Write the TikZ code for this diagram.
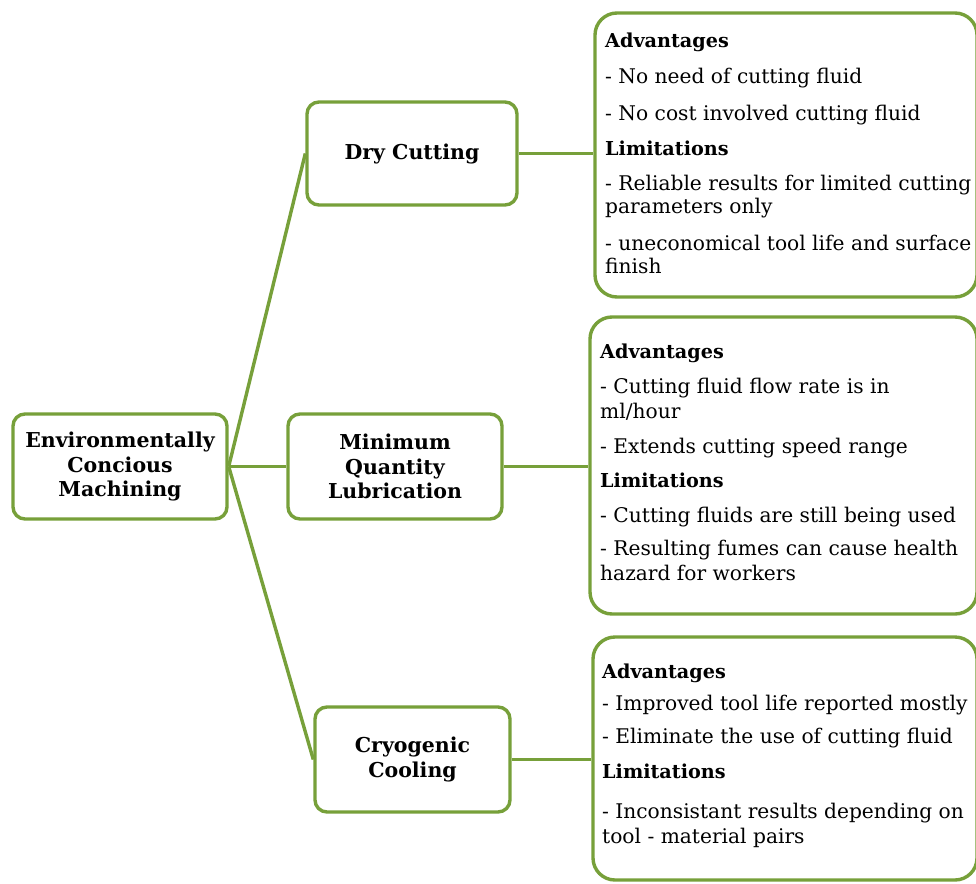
\documentclass[tikz,border=0pt]{standalone}
\usepackage{fontspec}
\setmainfont{DejaVu Serif}
\definecolor{lg}{RGB}{119,160,58}
\begin{document}
\begin{tikzpicture}[x=1pt,y=-1pt,
  box/.style={draw=lg, line width=3.4pt, rounded corners=12pt, fill=white, inner sep=0pt,
    align=center, font=\bfseries\fontsize{20.5}{24.5}\selectfont},
  rbox/.style={draw=lg, line width=3.4pt, rounded corners=22pt, inner sep=0pt},
  conn/.style={draw=lg, line width=3.4pt},
  txt/.style={anchor=base west, inner sep=0pt, font=\fontsize{20.2}{23}\selectfont},
  hd/.style={txt, font=\bfseries\fontsize{19.2}{23}\selectfont}]
\useasboundingbox[fill=white] (0,0) rectangle (976,883);
% left boxes
\node[box, minimum width=214pt, minimum height=105pt] (root) at (120,466.5) {Environmentally\\Concious\\Machining};
\node[box, minimum width=210pt, minimum height=103pt] (dry) at (412,153.5) {Dry Cutting};
\node[box, minimum width=214pt, minimum height=105pt] (mql) at (395,466.5) {Minimum\\Quantity\\Lubrication};
\node[box, minimum width=195pt, minimum height=105pt] (cryo) at (412.5,759.5) {Cryogenic\\Cooling};
% right boxes
\node[rbox, minimum width=382pt, minimum height=284pt] (r1) at (786,155) {};
\node[rbox, minimum width=387pt, minimum height=297pt] (r2) at (783.5,465.5) {};
\node[rbox, minimum width=384pt, minimum height=243pt] (r3) at (785,758.5) {};
% connectors
\draw[conn] (root.east) -- (dry.west);
\draw[conn] (root.east) -- (mql.west);
\draw[conn] (root.east) -- (cryo.west);
\draw[conn] (dry.east) -- (dry.east -| r1.west);
\draw[conn] (mql.east) -- (mql.east -| r2.west);
\draw[conn] (cryo.east) -- (cryo.east -| r3.west);
% texts box 1
\node[hd] (t1) at (605,48) {Advantages};
\node[txt] (t2) at (605,83) {- No need of cutting fluid};
\node[txt] (t3) at (605,120) {- No cost involved cutting fluid};
\node[hd] (t4) at (605,155) {Limitations};
\node[txt] (t5) at (605,190) {- Reliable results for limited cutting};
\node[txt] (t6) at (605,213) {parameters only};
\node[txt] (t7) at (605,250) {- uneconomical tool life and surface};
\node[txt] (t8) at (605,273) {finish};
% texts box 2
\node[hd] (u1) at (600,358) {Advantages};
\node[txt] (u2) at (600,393) {- Cutting fluid flow rate is in};
\node[txt] (u3) at (600,418) {ml/hour};
\node[txt] (u4) at (600,453) {- Extends cutting speed range};
\node[hd] (u5) at (600,487) {Limitations};
\node[txt] (u6) at (600,522) {- Cutting fluids are still being used};
\node[txt] (u7) at (600,555) {- Resulting fumes can cause health};
\node[txt] (u8) at (600,580) {hazard for workers};
% texts box 3
\node[hd] (v1) at (602,678) {Advantages};
\node[txt] (v2) at (602,710) {- Improved tool life reported mostly};
\node[txt] (v3) at (602,743) {- Eliminate the use of cutting fluid};
\node[hd] (v4) at (602,778) {Limitations};
\node[txt] (v5) at (602,818) {- Inconsistant results depending on};
\node[txt] (v6) at (602,843) {tool - material pairs};
\end{tikzpicture}
\end{document}
